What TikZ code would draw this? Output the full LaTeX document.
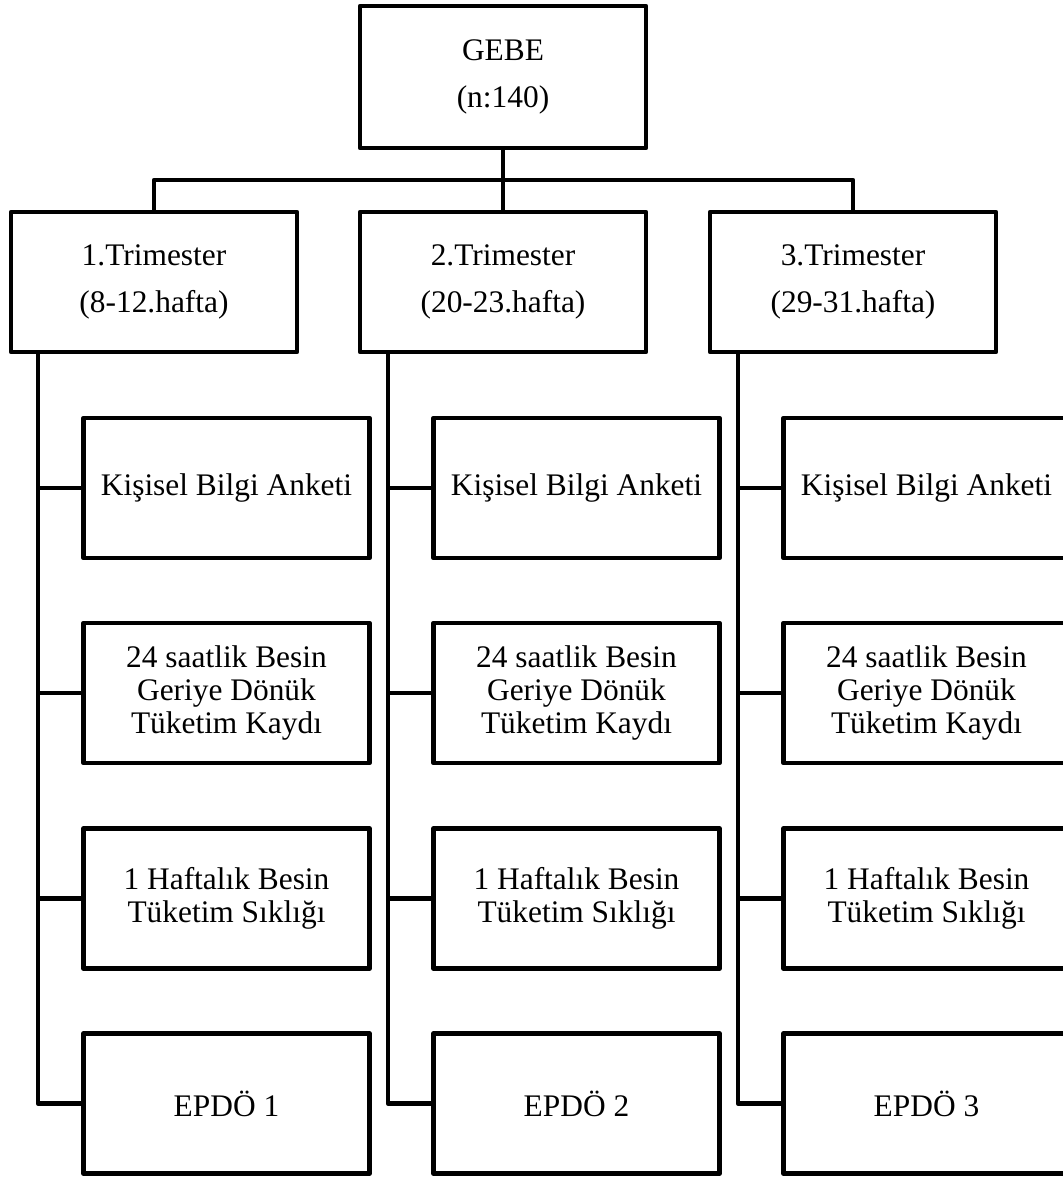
\documentclass[tikz,border=0pt]{standalone}
\usepackage{fontspec}
\setmainfont{Liberation Serif}
\usepackage{tikz}
\tikzstyle{box} = [draw, line width=2.25pt, line join=round, align=center, minimum width=143pt, minimum height=70pt, inner sep=2pt, font=\fontsize{15.7}{16.3}\selectfont]
\tikzstyle{topbox} = [box, font=\fontsize{15.7}{23.3}\selectfont]
\tikzstyle{link} = [line width=2.25pt, line join=round]

\begin{document}
\begin{tikzpicture}[x=0.5pt,y=-0.5pt]
	\useasboundingbox (0,0) rectangle (1062,1178);
	% gebe ve trimesterler
	\node[topbox, minimum height=71pt] (gebe) at (503,77) {GEBE\\(n:140)};
	\node[topbox] (t1) at (154,282) {1.Trimester\\(8-12.hafta)};
	\node[topbox] (t2) at (503,282) {2.Trimester\\(20-23.hafta)};
	\node[topbox] (t3) at (853,282) {3.Trimester\\(29-31.hafta)};
	\coordinate (bar) at (503,180);
	\draw[link] (gebe.south) -- (t2.north);
	\draw[link] (t1.north) -- (t1.north |- bar) -- (t3.north |- bar) -- (t3.north);
	% 1. trimester
	\coordinate (sp1) at (38,0);
	\node[box] (k1) at (226.5,488) {Kişisel Bilgi Anketi};
	\node[box] (b1) at (226.5,693) {24 saatlik Besin\\Geriye Dönük\\Tüketim Kaydı};
	\node[box] (h1) at (226.5,898.5) {1 Haftalık Besin\\Tüketim Sıklığı};
	\node[box] (e1) at (226.5,1103.5) {EPDÖ 1};
	\draw[link] (t1.south -| sp1) |- (e1.west);
	\draw[link] (sp1 |- k1.west) -- (k1.west);
	\draw[link] (sp1 |- b1.west) -- (b1.west);
	\draw[link] (sp1 |- h1.west) -- (h1.west);
	% 2. trimester
	\coordinate (sp2) at (388,0);
	\node[box] (k2) at (576.5,488) {Kişisel Bilgi Anketi};
	\node[box] (b2) at (576.5,693) {24 saatlik Besin\\Geriye Dönük\\Tüketim Kaydı};
	\node[box] (h2) at (576.5,898.5) {1 Haftalık Besin\\Tüketim Sıklığı};
	\node[box] (e2) at (576.5,1103.5) {EPDÖ 2};
	\draw[link] (t2.south -| sp2) |- (e2.west);
	\draw[link] (sp2 |- k2.west) -- (k2.west);
	\draw[link] (sp2 |- b2.west) -- (b2.west);
	\draw[link] (sp2 |- h2.west) -- (h2.west);
	% 3. trimester
	\coordinate (sp3) at (738,0);
	\node[box] (k3) at (926.5,488) {Kişisel Bilgi Anketi};
	\node[box] (b3) at (926.5,693) {24 saatlik Besin\\Geriye Dönük\\Tüketim Kaydı};
	\node[box] (h3) at (926.5,898.5) {1 Haftalık Besin\\Tüketim Sıklığı};
	\node[box] (e3) at (926.5,1103.5) {EPDÖ 3};
	\draw[link] (t3.south -| sp3) |- (e3.west);
	\draw[link] (sp3 |- k3.west) -- (k3.west);
	\draw[link] (sp3 |- b3.west) -- (b3.west);
	\draw[link] (sp3 |- h3.west) -- (h3.west);
\end{tikzpicture}
\end{document}
